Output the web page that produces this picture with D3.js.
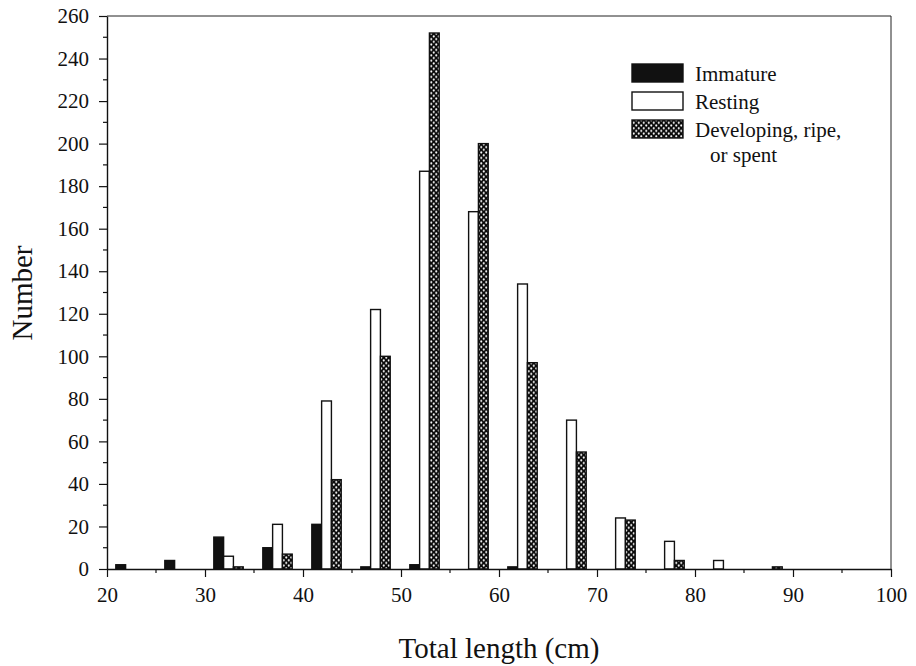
<!DOCTYPE html>
<html>
<head>
<meta charset="utf-8">
<script src="https://cdn.jsdelivr.net/npm/d3@7"></script>
<style>
  html, body { margin: 0; padding: 0; background: #fff; }
  svg { display: block; }
  text { font-family: "Liberation Serif", "Times New Roman", serif; fill: #111; }
</style>
</head>
<body>
<svg id="chart" width="916" height="666"></svg>
<script>
// Length classes (start of each 5-cm bin) and counts by maturity stage
const binStarts = [20, 25, 30, 35, 40, 45, 50, 55, 60, 65, 70, 75, 80, 85];
const immature   = [2, 4, 15, 10, 21, 1, 2, 0, 1, 0, 0, 0, 0, 0];
const resting    = [0, 0, 6, 21, 79, 122, 187, 168, 134, 70, 24, 13, 4, 0];
const developing = [0, 0, 1, 7, 42, 100, 252, 200, 97, 55, 23, 4, 0, 1];

const seriesNames = ["Immature", "Resting", "Developing, ripe,"];
const xTicksMajor = [20, 30, 40, 50, 60, 70, 80, 90, 100];
const yTicksMajor = d3.range(0, 261, 20);

const svg = d3.select("#chart");
const margin = { left: 107, right: 25, top: 16, bottom: 97 };
const W = 916, H = 666;

const x = d3.scaleLinear().domain([20, 100]).range([margin.left, W - margin.right]);
const y = d3.scaleLinear().domain([0, 260]).range([H - margin.bottom, margin.top]);

// Crosshatch fill: black ground with a lattice of white dots
const defs = svg.append("defs");
const pat = defs.append("pattern")
  .attr("id", "hatch")
  .attr("patternUnits", "userSpaceOnUse")
  .attr("width", 5).attr("height", 5.4);
pat.append("rect").attr("width", 5).attr("height", 5.4).attr("fill", "#0a0a0a");
pat.append("circle").attr("cx", 1.25).attr("cy", 1.35).attr("r", 1.05).attr("fill", "#fff");
pat.append("circle").attr("cx", 3.75).attr("cy", 4.05).attr("r", 1.05).attr("fill", "#fff");

// Bars: three adjacent 1-cm bars inside each 5-cm class
const barWidth = 1.0;
const stages = [
  { values: immature,   offset: 0.9, fill: "#111" },
  { values: resting,    offset: 1.9, fill: "#fff" },
  { values: developing, offset: 2.9, fill: "url(#hatch)" }
];

const bars = svg.append("g").attr("class", "bars");
stages.forEach(s => {
  const rows = binStarts.map((b, i) => ({ b, v: s.values[i] })).filter(d => d.v > 0);
  bars.selectAll(null).data(rows).enter().append("rect")
    .attr("x", d => x(d.b + s.offset))
    .attr("width", d => x(d.b + s.offset + barWidth) - x(d.b + s.offset))
    .attr("y", d => y(d.v))
    .attr("height", d => y(0) - y(d.v))
    .attr("fill", s.fill)
    .attr("stroke", "#111")
    .attr("stroke-width", 1.4);
});

// Frame (top and right)
svg.append("path")
  .attr("d", `M${x(20)},${y(260)}H${x(100)}V${y(0)}`)
  .attr("fill", "none").attr("stroke", "#222").attr("stroke-width", 1);

// X axis
const xAxis = svg.append("g").attr("transform", `translate(0,${y(0)})`);
xAxis.call(d3.axisBottom(x).tickValues(xTicksMajor).tickSize(8).tickSizeOuter(0).tickPadding(10));
xAxis.append("g").selectAll("line").data(d3.range(25, 100, 10)).enter().append("line")
  .attr("x1", d => x(d)).attr("x2", d => x(d)).attr("y1", 0).attr("y2", 4)
  .attr("stroke", "#111").attr("stroke-width", 1.2);

// Y axis
const yAxis = svg.append("g").attr("transform", `translate(${x(20)},0)`);
yAxis.call(d3.axisLeft(y).tickValues(yTicksMajor).tickSize(8).tickSizeOuter(0).tickPadding(10));
yAxis.append("g").selectAll("line").data(d3.range(10, 260, 20)).enter().append("line")
  .attr("x1", 0).attr("x2", -4).attr("y1", d => y(d)).attr("y2", d => y(d))
  .attr("stroke", "#111").attr("stroke-width", 1.2);

[xAxis, yAxis].forEach(g => {
  g.attr("font-family", null);
  g.select(".domain").attr("stroke", "#111").attr("stroke-width", 1.4);
  g.selectAll(".tick line").attr("stroke", "#111").attr("stroke-width", 1.2);
  g.selectAll(".tick text")
    .style("font-family", '"Liberation Serif", serif')
    .style("font-size", "21px").attr("fill", "#111");
});

// Axis titles
svg.append("text")
  .attr("x", x(60)).attr("y", 658)
  .attr("text-anchor", "middle")
  .style("font-size", "29px")
  .text("Total length (cm)");

svg.append("text")
  .attr("transform", "translate(32,293) rotate(-90)")
  .attr("text-anchor", "middle")
  .style("font-size", "29px")
  .text("Number");

// Legend
const legend = svg.append("g").attr("class", "legend");
const swX = 632, swW = 51, swH = 18;
const rowsY = [64, 92, 120];
const fills = ["#111", "#fff", "url(#hatch)"];
rowsY.forEach((ry, i) => {
  legend.append("rect")
    .attr("x", swX).attr("y", ry).attr("width", swW).attr("height", swH)
    .attr("fill", fills[i]).attr("stroke", "#111").attr("stroke-width", 1.4);
  legend.append("text")
    .attr("x", 695).attr("y", ry + 17)
    .style("font-size", "21px")
    .text(seriesNames[i]);
});
legend.append("text")
  .attr("x", 710).attr("y", rowsY[2] + 42)
  .style("font-size", "21px")
  .text("or spent");
</script>
</body>
</html>
